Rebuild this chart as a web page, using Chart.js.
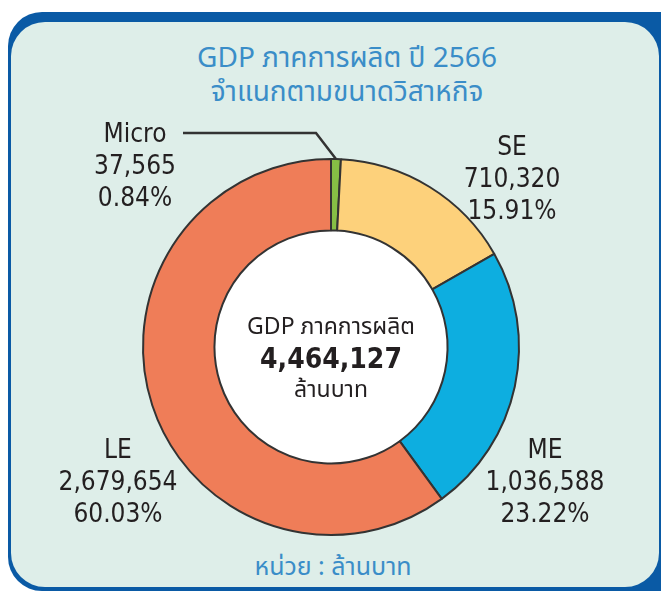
<!DOCTYPE html>
<html>
<head>
<meta charset="utf-8">
<script src="https://cdn.jsdelivr.net/npm/chart.js@4"></script>
<style>
  html, body { margin: 0; padding: 0; background: #fff; }
  #wrap { position: relative; width: 661px; height: 591px; overflow: hidden; }
  .card-back {
    position: absolute; left: 8px; top: 12px; width: 690px; height: 579px;
    background: #0a5aa5; border-radius: 34px;
  }
  .card {
    position: absolute; left: 11px; top: 22px; width: 648px; height: 565px;
    background: #deeee9; border-radius: 34px;
  }
  .title {
    position: absolute; left: 147px; width: 400px; top: 42px; text-align: center;
    color: #3a8dc8; font-family: 'Noto Sans Thai', 'Noto Sans', sans-serif;
    font-size: 28px; line-height: 34px;
  }
  .unit {
    position: absolute; left: 133px; width: 400px; top: 551px; text-align: center;
    color: #3a8dc8; font-family: 'Noto Sans Thai', 'Noto Sans', sans-serif;
    font-size: 25px; line-height: 32px;
  }
  canvas { position: absolute; left: 0; top: 0; }
</style>
</head>
<body>
<div id="wrap">
  <div class="card-back"></div>
  <div class="card"></div>
  <div class="title">GDP ภาคการผลิต ปี 2566<br>จำแนกตามขนาดวิสาหกิจ</div>
  <div class="unit">หน่วย : ล้านบาท</div>
  <canvas id="gdpChart" width="661" height="591"></canvas>
</div>
<script>
/* ---- Data ---- */
const categories = ['Micro', 'SE', 'ME', 'LE'];
const values = [37565, 710320, 1036588, 2679654];
const sliceColors = ['#86bf45', '#fdd17b', '#0daee0', '#ef7d58'];
const centerLines = ['GDP ภาคการผลิต', '4,464,127', 'ล้านบาท'];

const total = values.reduce((a, b) => a + b, 0);
const fmt = (v) => v.toLocaleString('en-US');
const pct = (v) => (v / total * 100).toFixed(2) + '%';

// where each label block sits (centre x, first line y)
const labelPos = {
  Micro: { x: 135, y: 135 },
  SE:    { x: 512, y: 148 },
  ME:    { x: 545, y: 451 },
  LE:    { x: 118, y: 451 },
};

const LABEL_FONT = '26px "DejaVu Sans Condensed", "Noto Sans", sans-serif';
const THAI_FONT = '"Noto Sans Thai", "Noto Sans", sans-serif';

const innerFill = {
  id: 'innerFill',
  beforeDatasetsDraw(chart) {
    const arc = chart.getDatasetMeta(0).data[0];
    if (!arc) return;
    const { x, y, innerRadius } = arc.getProps(['x', 'y', 'innerRadius'], true);
    const ctx = chart.ctx;
    ctx.save();
    ctx.beginPath();
    ctx.arc(x, y, innerRadius, 0, Math.PI * 2);
    ctx.fillStyle = '#ffffff';
    ctx.fill();
    ctx.restore();
  }
};

const labels = {
  id: 'sliceLabels',
  afterDraw(chart) {
    const ctx = chart.ctx;
    const meta = chart.getDatasetMeta(0);
    ctx.save();
    ctx.textAlign = 'center';
    ctx.textBaseline = 'middle';
    ctx.fillStyle = '#231f20';

    categories.forEach((cat, i) => {
      const p = labelPos[cat];
      ctx.font = (cat === 'Micro' ? '500 ' : '') + LABEL_FONT;
      ctx.fillText(cat, p.x, p.y);
      ctx.font = LABEL_FONT;
      ctx.fillText(fmt(values[i]), p.x, p.y + 32);
      ctx.fillText(pct(values[i]), p.x, p.y + 64);
    });

    // leader line for Micro
    const a = meta.data[0].getProps(['x', 'y', 'startAngle', 'endAngle', 'outerRadius'], true);
    const mid = (a.startAngle + a.endAngle) / 2;
    const ex = a.x + Math.cos(mid) * a.outerRadius;
    const ey = a.y + Math.sin(mid) * a.outerRadius;
    ctx.beginPath();
    ctx.moveTo(183, 133);
    ctx.lineTo(316, 133);
    ctx.lineTo(ex, ey);
    ctx.strokeStyle = '#333333';
    ctx.lineWidth = 2.5;
    ctx.stroke();

    // centre text
    const cx = a.x, cy = a.y;
    ctx.font = '23px ' + THAI_FONT;
    ctx.fillText(centerLines[0], cx, cy - 18);
    ctx.font = 'bold 28px "DejaVu Sans Condensed", sans-serif';
    ctx.fillText(centerLines[1], cx, cy + 14);
    ctx.font = '23px ' + THAI_FONT;
    ctx.fillText(centerLines[2], cx, cy + 45);
    ctx.restore();
  }
};

new Chart(document.getElementById('gdpChart'), {
  type: 'doughnut',
  data: {
    labels: categories,
    datasets: [{
      data: values,
      backgroundColor: sliceColors,
      borderColor: '#333333',
      borderWidth: 2,
      hoverOffset: 0,
    }]
  },
  options: {
    responsive: false,
    animation: false,
    cutout: '62%',
    layout: { padding: { top: 158, bottom: 55, left: 142, right: 141 } },
    plugins: {
      legend: { display: false },
      tooltip: { enabled: false },
    }
  },
  plugins: [innerFill, labels]
});
</script>
</body>
</html>
